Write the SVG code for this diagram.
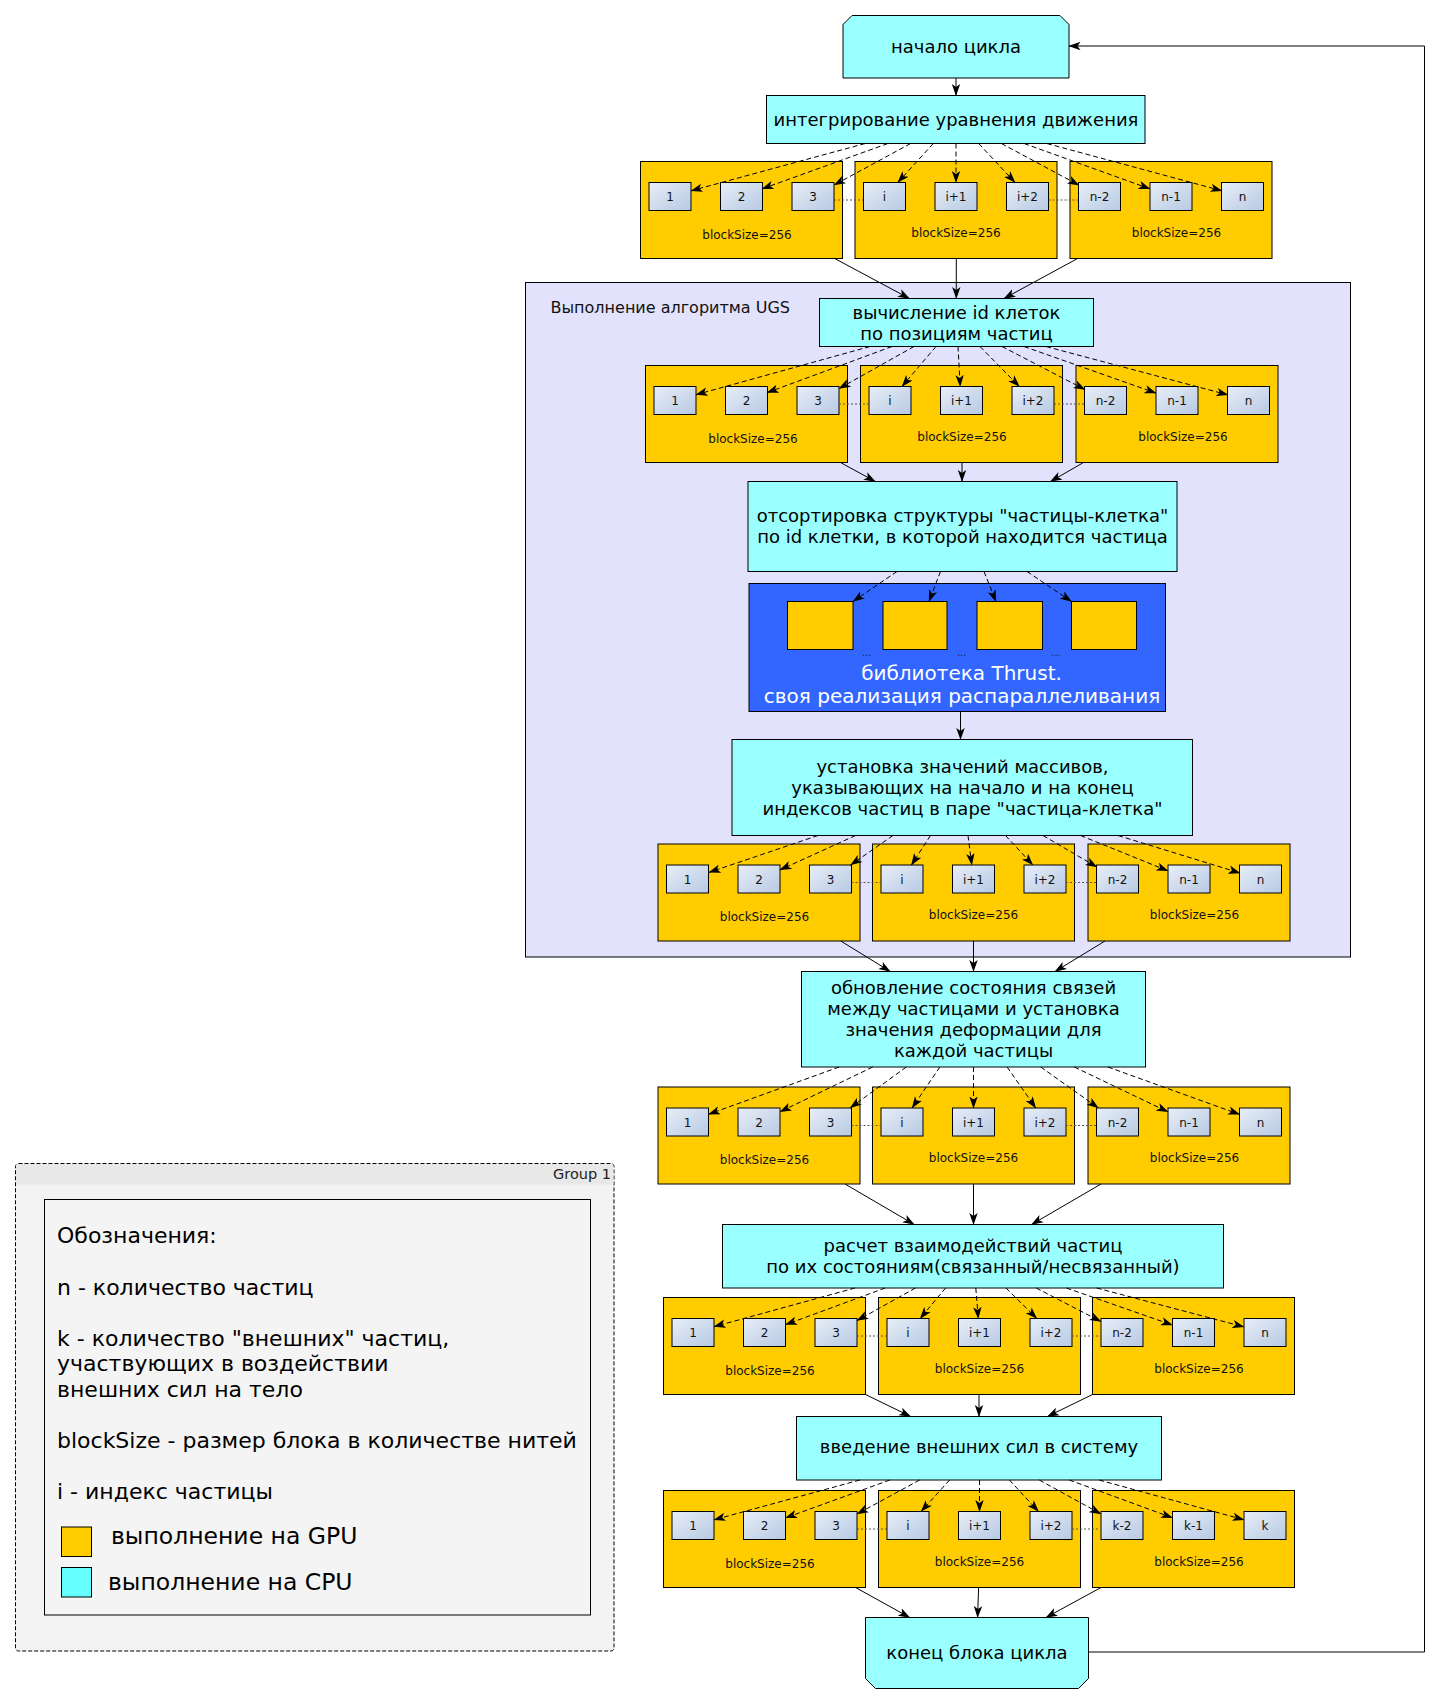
<svg xmlns="http://www.w3.org/2000/svg" width="1438" height="1704" viewBox="0 0 1438 1704">
<defs>
<linearGradient id="g" x1="0" y1="0" x2="1" y2="1"><stop offset="0" stop-color="#e8eef7"/><stop offset="1" stop-color="#b7c9e3"/></linearGradient>
<marker id="ah" viewBox="0 0 12 10" refX="11.5" refY="5" markerWidth="12" markerHeight="10" markerUnits="userSpaceOnUse" orient="auto"><path d="M0,0.8 L12,5 L0,9.2 L3,5 Z" fill="#000"/></marker>
<style>
text{font-family:"DejaVu Sans","Liberation Sans",sans-serif}
.cpu{fill:#99ffff;stroke:#000;stroke-width:1}
.blk{fill:#ffcc00;stroke:#000;stroke-width:1}
.sb{fill:url(#g);stroke:#000;stroke-width:1}
.t18{font-size:18px;text-anchor:middle;fill:#000}
.t12{font-size:12px;text-anchor:middle;fill:#111}
.e{fill:none;stroke:#000;stroke-width:1;marker-end:url(#ah)}
.d{stroke-dasharray:5 3}
.dot{stroke:#555;stroke-width:1;stroke-dasharray:2 2}
.lg{font-size:22px;fill:#000}
.wt{font-size:20px;text-anchor:middle;fill:#fff}
.el{font-size:10px;text-anchor:middle;fill:#13245e}
</style>
</defs>
<rect width="1438" height="1704" fill="#fff"/>

<!-- legend group -->
<g id="legend">
<rect x="15.5" y="1163.5" width="598.5" height="487.5" rx="3" fill="#f3f3f3" stroke="#000" stroke-dasharray="4 2"/>
<path d="M16,1184.5 V1166.5 Q16,1164 18.5,1164 H611 Q613.5,1164 613.5,1166.5 V1184.5 Z" fill="#e8e8e8"/>
<text x="611" y="1179" style="font-size:14.5px;text-anchor:end;fill:#222">Group 1</text>
<rect x="44.5" y="1199.5" width="546" height="415.5" fill="#f4f4f4" stroke="#000"/>
<text class="lg" x="57" y="1243">Обозначения:</text>
<text class="lg" x="57" y="1294.5">n - количество частиц</text>
<text class="lg" x="57" y="1345.5">k - количество "внешних" частиц,</text>
<text class="lg" x="57" y="1371">участвующих в воздействии</text>
<text class="lg" x="57" y="1396.5">внешних сил на тело</text>
<text class="lg" x="57" y="1448">blockSize - размер блока в количестве нитей</text>
<text class="lg" x="57" y="1499">i - индекс частицы</text>
<rect x="61.5" y="1527" width="30" height="29.5" fill="#ffcc00" stroke="#000"/>
<text x="111" y="1544" style="font-size:23.5px;fill:#000">выполнение на GPU</text>
<rect x="61.5" y="1567.5" width="30" height="29.5" fill="#66ffff" stroke="#000"/>
<text x="108" y="1590" style="font-size:23.5px;fill:#000">выполнение на CPU</text>
</g>

<!-- UGS group -->
<g id="ugs">
<rect x="525.5" y="282.5" width="825" height="674.5" fill="#e2e2fc" stroke="#000"/>
<text x="550.5" y="312.5" style="font-size:16px;fill:#111">Выполнение алгоритма UGS</text>
</g>

<!-- CPU nodes -->
<g id="start"><path class="cpu" d="M852,15.5 H1060 L1069,24.5 V78 H843 V24.5 Z"/><text class="t18" x="956" y="53">начало цикла</text></g>
<g id="integr"><rect class="cpu" x="766.5" y="95.5" width="378.5" height="48"/><text class="t18" x="956" y="126">интегрирование уравнения движения</text></g>
<g id="cellid"><rect class="cpu" x="819.5" y="298.5" width="274" height="48"/><text class="t18" x="956.5" y="318.5">вычисление id клеток</text><text class="t18" x="956.5" y="339.5">по позициям частиц</text></g>
<g id="sort"><rect class="cpu" x="748" y="481.5" width="429" height="90"/><text class="t18" x="962.5" y="521.5">отсортировка структуры "частицы-клетка"</text><text class="t18" x="962.5" y="542.5">по id клетки, в которой находится частица</text></g>
<g id="thrust">
<rect x="749" y="583.5" width="416.5" height="128" fill="#3366ff" stroke="#000"/>
<rect x="787.5" y="601.5" width="65.5" height="48" class="blk"/>
<rect x="883" y="601.5" width="64" height="48" class="blk"/>
<rect x="977" y="601.5" width="65.5" height="48" class="blk"/>
<rect x="1071.5" y="601.5" width="65" height="48" class="blk"/>
<text class="el" x="866.7" y="656">...</text>
<text class="el" x="961.7" y="656">...</text>
<text class="el" x="1056" y="656">...</text>
<text class="wt" x="961.5" y="680">библиотека Thrust.</text>
<text class="wt" x="962" y="703">своя реализация распараллеливания</text>
</g>
<g id="bounds"><rect class="cpu" x="732" y="739.5" width="460.5" height="96"/><text class="t18" x="962.5" y="772.5">установка значений массивов,</text><text class="t18" x="962.5" y="793.5">указывающих на начало и на конец</text><text class="t18" x="962.5" y="814.5">индексов частиц в паре "частица-клетка"</text></g>
<g id="update"><rect class="cpu" x="801.5" y="971.5" width="344" height="95.5"/><text class="t18" x="973.5" y="993.5">обновление состояния связей</text><text class="t18" x="973.5" y="1014.5">между частицами и установка</text><text class="t18" x="973.5" y="1035.5">значения деформации для</text><text class="t18" x="973.5" y="1056.5">каждой частицы</text></g>
<g id="interact"><rect class="cpu" x="722.5" y="1224.5" width="501" height="63.5"/><text class="t18" x="973" y="1251.5">расчет взаимодействий частиц</text><text class="t18" x="973" y="1272.5">по их состояниям(связанный/несвязанный)</text></g>
<g id="external"><rect class="cpu" x="796.5" y="1416.5" width="365" height="63.5"/><text class="t18" x="979" y="1452.5">введение внешних сил в систему</text></g>
<g id="end"><path class="cpu" d="M865.5,1617.5 H1088.5 V1678.5 L1078.5,1688.5 H875.5 L865.5,1678.5 Z"/><text class="t18" x="977" y="1659">конец блока цикла</text></g>

<!-- GPU block rows -->
<g id="row1">
<g id="r1b1" transform="translate(640.5,161.5)"><rect class="blk" width="202" height="97"/><g id="r1n1"><rect class="sb" x="8.5" y="21" width="42" height="28"/><text class="t12" x="29.5" y="39.5">1</text></g><g id="r1n2"><rect class="sb" x="80" y="21" width="42" height="28"/><text class="t12" x="101" y="39.5">2</text></g><g id="r1n3"><rect class="sb" x="151.5" y="21" width="42" height="28"/><text class="t12" x="172.5" y="39.5">3</text></g><text class="t12" x="106.5" y="77">blockSize=256</text></g>
<g id="r1b2" transform="translate(855,161.5)"><rect class="blk" width="202" height="97"/><g id="r1n4"><rect class="sb" x="8.5" y="21" width="42" height="28"/><text class="t12" x="29.5" y="39.5">i</text></g><g id="r1n5"><rect class="sb" x="80" y="21" width="42" height="28"/><text class="t12" x="101" y="39.5">i+1</text></g><g id="r1n6"><rect class="sb" x="151.5" y="21" width="42" height="28"/><text class="t12" x="172.5" y="39.5">i+2</text></g><text class="t12" x="101" y="75">blockSize=256</text></g>
<g id="r1b3" transform="translate(1070,161.5)"><rect class="blk" width="202" height="97"/><g id="r1n7"><rect class="sb" x="8.5" y="21" width="42" height="28"/><text class="t12" x="29.5" y="39.5">n-2</text></g><g id="r1n8"><rect class="sb" x="80" y="21" width="42" height="28"/><text class="t12" x="101" y="39.5">n-1</text></g><g id="r1n9"><rect class="sb" x="151.5" y="21" width="42" height="28"/><text class="t12" x="172.5" y="39.5">n</text></g><text class="t12" x="106.5" y="75">blockSize=256</text></g>
<path class="dot" d="M834,200 H863.5 M1048.5,200 H1078.5"/>
</g>
<g id="row2">
<g id="r2b1" transform="translate(645.5,365.5)"><rect class="blk" width="202" height="97"/><g id="r2n1"><rect class="sb" x="8.5" y="21" width="42" height="28"/><text class="t12" x="29.5" y="39.5">1</text></g><g id="r2n2"><rect class="sb" x="80" y="21" width="42" height="28"/><text class="t12" x="101" y="39.5">2</text></g><g id="r2n3"><rect class="sb" x="151.5" y="21" width="42" height="28"/><text class="t12" x="172.5" y="39.5">3</text></g><text class="t12" x="107.5" y="77">blockSize=256</text></g>
<g id="r2b2" transform="translate(860.5,365.5)"><rect class="blk" width="202" height="97"/><g id="r2n4"><rect class="sb" x="8.5" y="21" width="42" height="28"/><text class="t12" x="29.5" y="39.5">i</text></g><g id="r2n5"><rect class="sb" x="80" y="21" width="42" height="28"/><text class="t12" x="101" y="39.5">i+1</text></g><g id="r2n6"><rect class="sb" x="151.5" y="21" width="42" height="28"/><text class="t12" x="172.5" y="39.5">i+2</text></g><text class="t12" x="101.5" y="75">blockSize=256</text></g>
<g id="r2b3" transform="translate(1076,365.5)"><rect class="blk" width="202" height="97"/><g id="r2n7"><rect class="sb" x="8.5" y="21" width="42" height="28"/><text class="t12" x="29.5" y="39.5">n-2</text></g><g id="r2n8"><rect class="sb" x="80" y="21" width="42" height="28"/><text class="t12" x="101" y="39.5">n-1</text></g><g id="r2n9"><rect class="sb" x="151.5" y="21" width="42" height="28"/><text class="t12" x="172.5" y="39.5">n</text></g><text class="t12" x="107" y="75">blockSize=256</text></g>
<path class="dot" d="M839,404 H869 M1054,404 H1084.5"/>
</g>
<g id="row3">
<g id="r3b1" transform="translate(658,844)"><rect class="blk" width="202" height="97"/><g id="r3n1"><rect class="sb" x="8.5" y="21" width="42" height="28"/><text class="t12" x="29.5" y="39.5">1</text></g><g id="r3n2"><rect class="sb" x="80" y="21" width="42" height="28"/><text class="t12" x="101" y="39.5">2</text></g><g id="r3n3"><rect class="sb" x="151.5" y="21" width="42" height="28"/><text class="t12" x="172.5" y="39.5">3</text></g><text class="t12" x="106.5" y="77">blockSize=256</text></g>
<g id="r3b2" transform="translate(872.5,844)"><rect class="blk" width="202" height="97"/><g id="r3n4"><rect class="sb" x="8.5" y="21" width="42" height="28"/><text class="t12" x="29.5" y="39.5">i</text></g><g id="r3n5"><rect class="sb" x="80" y="21" width="42" height="28"/><text class="t12" x="101" y="39.5">i+1</text></g><g id="r3n6"><rect class="sb" x="151.5" y="21" width="42" height="28"/><text class="t12" x="172.5" y="39.5">i+2</text></g><text class="t12" x="101" y="75">blockSize=256</text></g>
<g id="r3b3" transform="translate(1088,844)"><rect class="blk" width="202" height="97"/><g id="r3n7"><rect class="sb" x="8.5" y="21" width="42" height="28"/><text class="t12" x="29.5" y="39.5">n-2</text></g><g id="r3n8"><rect class="sb" x="80" y="21" width="42" height="28"/><text class="t12" x="101" y="39.5">n-1</text></g><g id="r3n9"><rect class="sb" x="151.5" y="21" width="42" height="28"/><text class="t12" x="172.5" y="39.5">n</text></g><text class="t12" x="106.5" y="75">blockSize=256</text></g>
<path class="dot" d="M851.5,882.5 H881 M1066,882.5 H1096.5"/>
</g>
<g id="row4">
<g id="r4b1" transform="translate(658,1087)"><rect class="blk" width="202" height="97"/><g id="r4n1"><rect class="sb" x="8.5" y="21" width="42" height="28"/><text class="t12" x="29.5" y="39.5">1</text></g><g id="r4n2"><rect class="sb" x="80" y="21" width="42" height="28"/><text class="t12" x="101" y="39.5">2</text></g><g id="r4n3"><rect class="sb" x="151.5" y="21" width="42" height="28"/><text class="t12" x="172.5" y="39.5">3</text></g><text class="t12" x="106.5" y="77">blockSize=256</text></g>
<g id="r4b2" transform="translate(872.5,1087)"><rect class="blk" width="202" height="97"/><g id="r4n4"><rect class="sb" x="8.5" y="21" width="42" height="28"/><text class="t12" x="29.5" y="39.5">i</text></g><g id="r4n5"><rect class="sb" x="80" y="21" width="42" height="28"/><text class="t12" x="101" y="39.5">i+1</text></g><g id="r4n6"><rect class="sb" x="151.5" y="21" width="42" height="28"/><text class="t12" x="172.5" y="39.5">i+2</text></g><text class="t12" x="101" y="75">blockSize=256</text></g>
<g id="r4b3" transform="translate(1088,1087)"><rect class="blk" width="202" height="97"/><g id="r4n7"><rect class="sb" x="8.5" y="21" width="42" height="28"/><text class="t12" x="29.5" y="39.5">n-2</text></g><g id="r4n8"><rect class="sb" x="80" y="21" width="42" height="28"/><text class="t12" x="101" y="39.5">n-1</text></g><g id="r4n9"><rect class="sb" x="151.5" y="21" width="42" height="28"/><text class="t12" x="172.5" y="39.5">n</text></g><text class="t12" x="106.5" y="75">blockSize=256</text></g>
<path class="dot" d="M851.5,1125.5 H881 M1066,1125.5 H1096.5"/>
</g>
<g id="row5">
<g id="r5b1" transform="translate(663.5,1297.5)"><rect class="blk" width="202" height="97"/><g id="r5n1"><rect class="sb" x="8.5" y="21" width="42" height="28"/><text class="t12" x="29.5" y="39.5">1</text></g><g id="r5n2"><rect class="sb" x="80" y="21" width="42" height="28"/><text class="t12" x="101" y="39.5">2</text></g><g id="r5n3"><rect class="sb" x="151.5" y="21" width="42" height="28"/><text class="t12" x="172.5" y="39.5">3</text></g><text class="t12" x="106.5" y="77">blockSize=256</text></g>
<g id="r5b2" transform="translate(878.5,1297.5)"><rect class="blk" width="202" height="97"/><g id="r5n4"><rect class="sb" x="8.5" y="21" width="42" height="28"/><text class="t12" x="29.5" y="39.5">i</text></g><g id="r5n5"><rect class="sb" x="80" y="21" width="42" height="28"/><text class="t12" x="101" y="39.5">i+1</text></g><g id="r5n6"><rect class="sb" x="151.5" y="21" width="42" height="28"/><text class="t12" x="172.5" y="39.5">i+2</text></g><text class="t12" x="101" y="75">blockSize=256</text></g>
<g id="r5b3" transform="translate(1092.5,1297.5)"><rect class="blk" width="202" height="97"/><g id="r5n7"><rect class="sb" x="8.5" y="21" width="42" height="28"/><text class="t12" x="29.5" y="39.5">n-2</text></g><g id="r5n8"><rect class="sb" x="80" y="21" width="42" height="28"/><text class="t12" x="101" y="39.5">n-1</text></g><g id="r5n9"><rect class="sb" x="151.5" y="21" width="42" height="28"/><text class="t12" x="172.5" y="39.5">n</text></g><text class="t12" x="106.5" y="75">blockSize=256</text></g>
<path class="dot" d="M857,1336 H887 M1072,1336 H1101"/>
</g>
<g id="row6">
<g id="r6b1" transform="translate(663.5,1490.5)"><rect class="blk" width="202" height="97"/><g id="r6n1"><rect class="sb" x="8.5" y="21" width="42" height="28"/><text class="t12" x="29.5" y="39.5">1</text></g><g id="r6n2"><rect class="sb" x="80" y="21" width="42" height="28"/><text class="t12" x="101" y="39.5">2</text></g><g id="r6n3"><rect class="sb" x="151.5" y="21" width="42" height="28"/><text class="t12" x="172.5" y="39.5">3</text></g><text class="t12" x="106.5" y="77">blockSize=256</text></g>
<g id="r6b2" transform="translate(878.5,1490.5)"><rect class="blk" width="202" height="97"/><g id="r6n4"><rect class="sb" x="8.5" y="21" width="42" height="28"/><text class="t12" x="29.5" y="39.5">i</text></g><g id="r6n5"><rect class="sb" x="80" y="21" width="42" height="28"/><text class="t12" x="101" y="39.5">i+1</text></g><g id="r6n6"><rect class="sb" x="151.5" y="21" width="42" height="28"/><text class="t12" x="172.5" y="39.5">i+2</text></g><text class="t12" x="101" y="75">blockSize=256</text></g>
<g id="r6b3" transform="translate(1092.5,1490.5)"><rect class="blk" width="202" height="97"/><g id="r6n7"><rect class="sb" x="8.5" y="21" width="42" height="28"/><text class="t12" x="29.5" y="39.5">k-2</text></g><g id="r6n8"><rect class="sb" x="80" y="21" width="42" height="28"/><text class="t12" x="101" y="39.5">k-1</text></g><g id="r6n9"><rect class="sb" x="151.5" y="21" width="42" height="28"/><text class="t12" x="172.5" y="39.5">k</text></g><text class="t12" x="106.5" y="75">blockSize=256</text></g>
<path class="dot" d="M857,1529 H887 M1072,1529 H1101"/>
</g>

<!-- connectors -->
<g id="connectors">
<path class="e" d="M956,78 V95.5"/>
<path class="e d" d="M865.2,143.5 L691,190.8"/>
<path class="e d" d="M887.9,143.5 L762,188.9"/>
<path class="e d" d="M910.6,143.5 L834,185.1"/>
<path class="e d" d="M933.3,143.5 L897.8,182.5"/>
<path class="e d" d="M956,143.5 L956,182.5"/>
<path class="e d" d="M978.7,143.5 L1015,182.5"/>
<path class="e d" d="M1001.4,143.5 L1079,185.2"/>
<path class="e d" d="M1024.1,143.5 L1150,188.9"/>
<path class="e d" d="M1046.8,143.5 L1222,190.8"/>
<path class="e" d="M834.7,258.5 L909.4,298.5"/>
<path class="e" d="M956.3,258.5 L956.3,298.5"/>
<path class="e" d="M1077.6,258.5 L1004,298.5"/>
<path class="e d" d="M870,346.5 L696,394.7"/>
<path class="e d" d="M892,346.5 L767,392.7"/>
<path class="e d" d="M914,346.5 L839,388.6"/>
<path class="e d" d="M936,346.5 L901.9,386.5"/>
<path class="e d" d="M958,346.5 L960.2,386.5"/>
<path class="e d" d="M980,346.5 L1019.3,386.5"/>
<path class="e d" d="M1002,346.5 L1085,389.6"/>
<path class="e d" d="M1024,346.5 L1156,393.1"/>
<path class="e d" d="M1046,346.5 L1228,394.9"/>
<path class="e" d="M840.5,462.5 L875.3,481.5"/>
<path class="e" d="M962,462.5 L962,481.5"/>
<path class="e" d="M1083.5,462.5 L1050.5,481.5"/>
<path class="e d" d="M897,571.5 L853,601.5"/>
<path class="e d" d="M940.5,571.5 L929,601.5"/>
<path class="e d" d="M984,571.5 L996,601.5"/>
<path class="e d" d="M1027,571.5 L1071.5,601.5"/>
<path class="e" d="M960.5,711.5 L960.5,739.5"/>
<path class="e d" d="M818,835.5 L709,872.4"/>
<path class="e d" d="M855.5,835.5 L780,869.9"/>
<path class="e d" d="M893,835.5 L850.6,865"/>
<path class="e d" d="M930.5,835.5 L911.4,865"/>
<path class="e d" d="M968,835.5 L971.8,865"/>
<path class="e d" d="M1005.5,835.5 L1032.8,865"/>
<path class="e d" d="M1043,835.5 L1097,867.1"/>
<path class="e d" d="M1080.5,835.5 L1168,870.9"/>
<path class="e d" d="M1118,835.5 L1240,873"/>
<path class="e" d="M840.8,941 L890.3,971.5"/>
<path class="e" d="M973.5,941 L973.5,971.5"/>
<path class="e" d="M1105,941 L1055,971.5"/>
<path class="e d" d="M839.1,1067 L708.5,1114.3"/>
<path class="e d" d="M872.7,1067 L780,1111.8"/>
<path class="e d" d="M906.3,1067 L850.1,1108"/>
<path class="e d" d="M939.9,1067 L912,1108"/>
<path class="e d" d="M973.5,1067 L973.5,1108"/>
<path class="e d" d="M1007.1,1067 L1035.8,1108"/>
<path class="e d" d="M1040.7,1067 L1098.4,1108"/>
<path class="e d" d="M1074.3,1067 L1168,1111.9"/>
<path class="e d" d="M1107.9,1067 L1239.5,1114.4"/>
<path class="e" d="M845,1184 L914.3,1224.5"/>
<path class="e" d="M973.5,1184 L973.5,1224.5"/>
<path class="e" d="M1101,1184 L1031.6,1224.5"/>
<path class="e d" d="M855,1288 L714,1326.7"/>
<path class="e d" d="M885.2,1288 L785.5,1324.7"/>
<path class="e d" d="M915.5,1288 L857,1320.6"/>
<path class="e d" d="M945.6,1288 L920.1,1318.5"/>
<path class="e d" d="M975.8,1288 L978.3,1318.5"/>
<path class="e d" d="M1006,1288 L1036.8,1318.5"/>
<path class="e d" d="M1036.2,1288 L1101,1321.6"/>
<path class="e d" d="M1066.4,1288 L1172.5,1325.1"/>
<path class="e d" d="M1096.6,1288 L1244,1326.9"/>
<path class="e" d="M865.5,1394.5 L910.7,1416.5"/>
<path class="e" d="M979,1394.5 L979,1416.5"/>
<path class="e" d="M1092.5,1394.5 L1047.4,1416.5"/>
<path class="e d" d="M859.9,1480 L714,1519.8"/>
<path class="e d" d="M889.8,1480 L785.5,1517.9"/>
<path class="e d" d="M919.7,1480 L857,1514"/>
<path class="e d" d="M949.6,1480 L921.1,1511.5"/>
<path class="e d" d="M979.5,1480 L979.5,1511.5"/>
<path class="e d" d="M1009.4,1480 L1038.5,1511.5"/>
<path class="e d" d="M1039.3,1480 L1101,1514"/>
<path class="e d" d="M1069.2,1480 L1172.5,1517.8"/>
<path class="e d" d="M1099.1,1480 L1244,1519.8"/>
<path class="e" d="M855.6,1587.5 L909.7,1617.5"/>
<path class="e" d="M978.6,1587.5 L977.6,1617.5"/>
<path class="e" d="M1101,1587.5 L1046,1617.5"/>
<path class="e" d="M1088.5,1652 H1424.5 V46 H1069"/>
</g>
</svg>
